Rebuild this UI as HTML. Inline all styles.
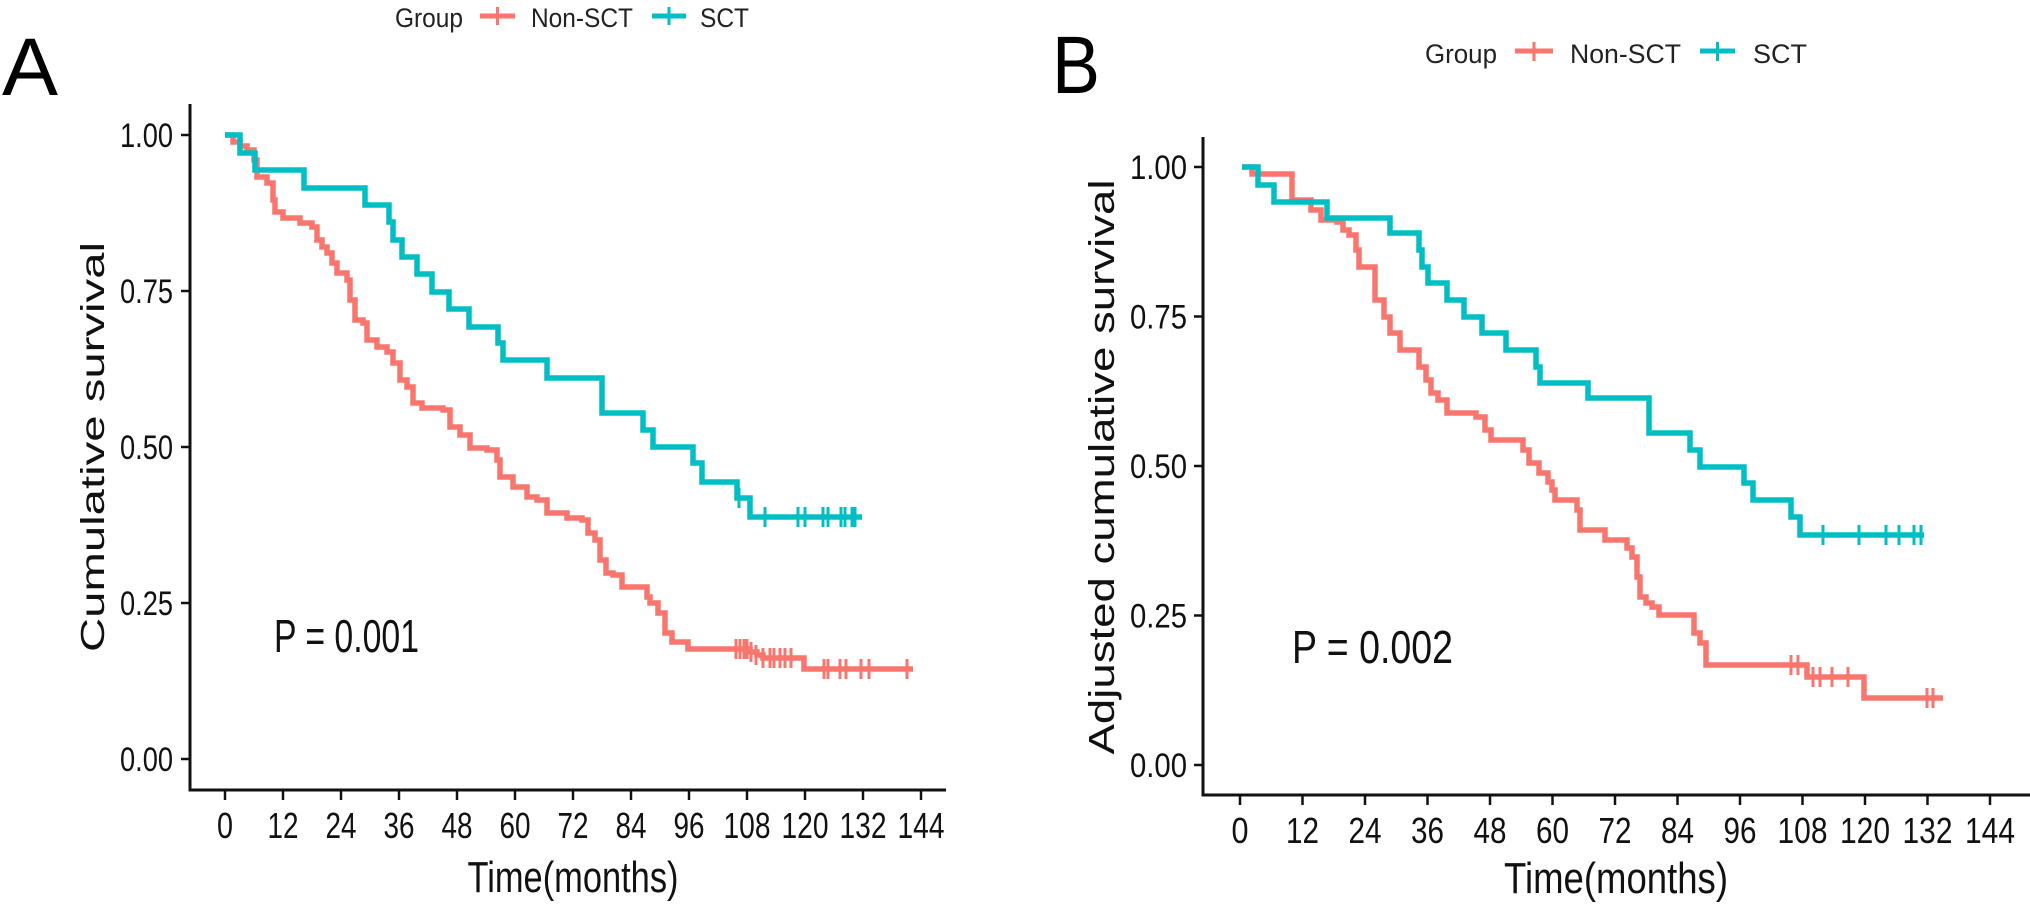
<!DOCTYPE html>
<html>
<head>
<meta charset="utf-8">
<style>
html,body{margin:0;padding:0;background:#fff;}
svg{display:block;}
text{font-family:"Liberation Sans",Arial,sans-serif;fill:#111;}
</style>
</head>
<body>
<svg width="2030" height="905" viewBox="0 0 2030 905" xmlns="http://www.w3.org/2000/svg">
<rect width="2030" height="905" fill="#fff"/>

<!-- ================= PANEL A ================= -->
<text x="2" y="95" font-size="82" textLength="56" lengthAdjust="spacingAndGlyphs" style="fill:#000">A</text>

<!-- legend A -->
<text x="395" y="27" font-size="27" textLength="68" lengthAdjust="spacingAndGlyphs" style="fill:#222">Group</text>
<line x1="480" y1="16" x2="515" y2="16" stroke="#F8766D" stroke-width="5"/>
<line x1="497.5" y1="7" x2="497.5" y2="25" stroke="#F8766D" stroke-width="3"/>
<text x="531" y="27" font-size="27" textLength="102" lengthAdjust="spacingAndGlyphs" style="fill:#222">Non-SCT</text>
<line x1="652" y1="16" x2="686" y2="16" stroke="#00BFC4" stroke-width="5"/>
<line x1="669" y1="7" x2="669" y2="25" stroke="#00BFC4" stroke-width="3"/>
<text x="700" y="27" font-size="27" textLength="49" lengthAdjust="spacingAndGlyphs" style="fill:#222">SCT</text>

<!-- axes A -->
<line x1="190" y1="104" x2="190" y2="791" stroke="#111" stroke-width="3"/>
<line x1="188.5" y1="790" x2="946" y2="790" stroke="#111" stroke-width="3"/>
<g stroke="#111" stroke-width="2.5">
<line x1="181" y1="135" x2="190" y2="135"/>
<line x1="181" y1="291" x2="190" y2="291"/>
<line x1="181" y1="447" x2="190" y2="447"/>
<line x1="181" y1="603" x2="190" y2="603"/>
<line x1="181" y1="759" x2="190" y2="759"/>
</g>
<g font-size="34">
<text x="120" y="147" textLength="53" lengthAdjust="spacingAndGlyphs">1.00</text>
<text x="120" y="303" textLength="53" lengthAdjust="spacingAndGlyphs">0.75</text>
<text x="120" y="459" textLength="53" lengthAdjust="spacingAndGlyphs">0.50</text>
<text x="120" y="615" textLength="53" lengthAdjust="spacingAndGlyphs">0.25</text>
<text x="120" y="771" textLength="53" lengthAdjust="spacingAndGlyphs">0.00</text>
</g>
<g stroke="#111" stroke-width="2.5">
<line x1="225" y1="790" x2="225" y2="800"/>
<line x1="283" y1="790" x2="283" y2="800"/>
<line x1="341" y1="790" x2="341" y2="800"/>
<line x1="399" y1="790" x2="399" y2="800"/>
<line x1="457" y1="790" x2="457" y2="800"/>
<line x1="515" y1="790" x2="515" y2="800"/>
<line x1="573" y1="790" x2="573" y2="800"/>
<line x1="631" y1="790" x2="631" y2="800"/>
<line x1="689" y1="790" x2="689" y2="800"/>
<line x1="747" y1="790" x2="747" y2="800"/>
<line x1="805" y1="790" x2="805" y2="800"/>
<line x1="863" y1="790" x2="863" y2="800"/>
<line x1="921" y1="790" x2="921" y2="800"/>
</g>
<g font-size="36" text-anchor="middle">
<text x="225" y="838" textLength="16" lengthAdjust="spacingAndGlyphs">0</text>
<text x="283" y="838" textLength="31" lengthAdjust="spacingAndGlyphs">12</text>
<text x="341" y="838" textLength="31" lengthAdjust="spacingAndGlyphs">24</text>
<text x="399" y="838" textLength="31" lengthAdjust="spacingAndGlyphs">36</text>
<text x="457" y="838" textLength="31" lengthAdjust="spacingAndGlyphs">48</text>
<text x="515" y="838" textLength="31" lengthAdjust="spacingAndGlyphs">60</text>
<text x="573" y="838" textLength="31" lengthAdjust="spacingAndGlyphs">72</text>
<text x="631" y="838" textLength="31" lengthAdjust="spacingAndGlyphs">84</text>
<text x="689" y="838" textLength="31" lengthAdjust="spacingAndGlyphs">96</text>
<text x="747" y="838" textLength="47" lengthAdjust="spacingAndGlyphs">108</text>
<text x="805" y="838" textLength="47" lengthAdjust="spacingAndGlyphs">120</text>
<text x="863" y="838" textLength="47" lengthAdjust="spacingAndGlyphs">132</text>
<text x="921" y="838" textLength="47" lengthAdjust="spacingAndGlyphs">144</text>
</g>
<text x="573" y="892" font-size="44" text-anchor="middle" textLength="211" lengthAdjust="spacingAndGlyphs">Time(months)</text>
<text transform="translate(104,447) rotate(-90)" x="0" y="0" font-size="33" text-anchor="middle" textLength="410" lengthAdjust="spacingAndGlyphs">Cumulative survival</text>
<text x="274" y="652" font-size="46" textLength="145" lengthAdjust="spacingAndGlyphs">P = 0.001</text>

<!-- curves A -->
<path fill="none" stroke="#F8766D" stroke-width="5.5" stroke-linejoin="miter" d="M225,135 H233 V142 H240 V146 H247 V150 H254 V160 H257 V177 H267 V183 H273 V200 H275 V212 H283 V218 H300 V223 H312 V227 H317 V240 H322 V247 H327 V253 H332 V263 H337 V273 H347 V280 H350 V300 H355 V320 H363 V323 H367 V340 H377 V347 H387 V352 H393 V363 H400 V380 H407 V387 H413 V403 H422 V408 H443 V410 H450 V427 H460 V435 H470 V448 H487 V450 H497 V460 H500 V477 H513 V487 H527 V497 H537 V500 H547 V513 H567 V518 H582 V520 H588 V533 H595 V540 H600 V560 H606 V573 H613 V575 H622 V587 H640 V587 H647 V597 H650 V603 H658 V613 H665 V633 H672 V642 H688 V649 H750 V652 H757 V655 H763 V658 H804 V669 H913"/>
<g stroke="#F8766D" stroke-width="3">
<line x1="736" y1="639" x2="736" y2="659"/><line x1="740" y1="639" x2="740" y2="659"/><line x1="744" y1="639" x2="744" y2="659"/><line x1="747" y1="639" x2="747" y2="659"/>
<line x1="751" y1="642" x2="751" y2="662"/><line x1="756" y1="645" x2="756" y2="665"/>
<line x1="763" y1="648" x2="763" y2="668"/><line x1="770" y1="648" x2="770" y2="668"/><line x1="774" y1="648" x2="774" y2="668"/><line x1="780" y1="648" x2="780" y2="668"/><line x1="785" y1="648" x2="785" y2="668"/><line x1="791" y1="648" x2="791" y2="668"/>
<line x1="824" y1="659" x2="824" y2="679"/><line x1="828" y1="659" x2="828" y2="679"/><line x1="840" y1="659" x2="840" y2="679"/><line x1="846" y1="659" x2="846" y2="679"/><line x1="861" y1="659" x2="861" y2="679"/><line x1="869" y1="659" x2="869" y2="679"/><line x1="907" y1="659" x2="907" y2="679"/>
</g>
<path fill="none" stroke="#00BFC4" stroke-width="5.5" d="M225,135 H240 V153 H255 V170 H304 V188 H365 V205 H389 V222 H393 V240 H402 V257 H417 V274 H432 V292 H449 V309 H469 V327 H498 V343 H503 V360 H547 V378 H602 V413 H643 V430 H653 V447 H693 V463 H702 V482 H737 V498 H750 V517 H862"/>
<g stroke="#00BFC4" stroke-width="3">
<line x1="739" y1="488" x2="739" y2="508"/>
<line x1="765" y1="507" x2="765" y2="527"/><line x1="798" y1="507" x2="798" y2="527"/><line x1="805" y1="507" x2="805" y2="527"/><line x1="823" y1="507" x2="823" y2="527"/><line x1="828" y1="507" x2="828" y2="527"/><line x1="841" y1="507" x2="841" y2="527"/><line x1="845" y1="507" x2="845" y2="527"/><line x1="852" y1="507" x2="852" y2="527"/><line x1="855" y1="507" x2="855" y2="527"/>
</g>

<!-- ================= PANEL B ================= -->
<text x="1052" y="93" font-size="82" textLength="48" lengthAdjust="spacingAndGlyphs" style="fill:#000">B</text>

<!-- legend B -->
<text x="1425" y="63" font-size="27" textLength="72" lengthAdjust="spacingAndGlyphs" style="fill:#222">Group</text>
<line x1="1515" y1="51" x2="1553" y2="51" stroke="#F8766D" stroke-width="5"/>
<line x1="1534" y1="42" x2="1534" y2="61" stroke="#F8766D" stroke-width="3"/>
<text x="1570" y="63" font-size="27" textLength="111" lengthAdjust="spacingAndGlyphs" style="fill:#222">Non-SCT</text>
<line x1="1700" y1="51" x2="1735" y2="51" stroke="#00BFC4" stroke-width="5"/>
<line x1="1717.5" y1="42" x2="1717.5" y2="61" stroke="#00BFC4" stroke-width="3"/>
<text x="1753" y="63" font-size="27" textLength="54" lengthAdjust="spacingAndGlyphs" style="fill:#222">SCT</text>

<!-- axes B -->
<line x1="1203" y1="137" x2="1203" y2="796" stroke="#111" stroke-width="3"/>
<line x1="1201.5" y1="795" x2="2030" y2="795" stroke="#111" stroke-width="3"/>
<g stroke="#111" stroke-width="2.5">
<line x1="1194" y1="167" x2="1203" y2="167"/>
<line x1="1194" y1="316.5" x2="1203" y2="316.5"/>
<line x1="1194" y1="466" x2="1203" y2="466"/>
<line x1="1194" y1="615.5" x2="1203" y2="615.5"/>
<line x1="1194" y1="765" x2="1203" y2="765"/>
</g>
<g font-size="34">
<text x="1130" y="179" textLength="57" lengthAdjust="spacingAndGlyphs">1.00</text>
<text x="1130" y="328.5" textLength="57" lengthAdjust="spacingAndGlyphs">0.75</text>
<text x="1130" y="478" textLength="57" lengthAdjust="spacingAndGlyphs">0.50</text>
<text x="1130" y="627.5" textLength="57" lengthAdjust="spacingAndGlyphs">0.25</text>
<text x="1130" y="777" textLength="57" lengthAdjust="spacingAndGlyphs">0.00</text>
</g>
<g stroke="#111" stroke-width="2.5">
<line x1="1240" y1="795" x2="1240" y2="805"/>
<line x1="1302.5" y1="795" x2="1302.5" y2="805"/>
<line x1="1365" y1="795" x2="1365" y2="805"/>
<line x1="1427.5" y1="795" x2="1427.5" y2="805"/>
<line x1="1490" y1="795" x2="1490" y2="805"/>
<line x1="1552.5" y1="795" x2="1552.5" y2="805"/>
<line x1="1615" y1="795" x2="1615" y2="805"/>
<line x1="1677.5" y1="795" x2="1677.5" y2="805"/>
<line x1="1740" y1="795" x2="1740" y2="805"/>
<line x1="1802.5" y1="795" x2="1802.5" y2="805"/>
<line x1="1865" y1="795" x2="1865" y2="805"/>
<line x1="1927.5" y1="795" x2="1927.5" y2="805"/>
<line x1="1990" y1="795" x2="1990" y2="805"/>
</g>
<g font-size="36" text-anchor="middle">
<text x="1240" y="843" textLength="17" lengthAdjust="spacingAndGlyphs">0</text>
<text x="1302.5" y="843" textLength="33" lengthAdjust="spacingAndGlyphs">12</text>
<text x="1365" y="843" textLength="33" lengthAdjust="spacingAndGlyphs">24</text>
<text x="1427.5" y="843" textLength="33" lengthAdjust="spacingAndGlyphs">36</text>
<text x="1490" y="843" textLength="33" lengthAdjust="spacingAndGlyphs">48</text>
<text x="1552.5" y="843" textLength="33" lengthAdjust="spacingAndGlyphs">60</text>
<text x="1615" y="843" textLength="33" lengthAdjust="spacingAndGlyphs">72</text>
<text x="1677.5" y="843" textLength="33" lengthAdjust="spacingAndGlyphs">84</text>
<text x="1740" y="843" textLength="33" lengthAdjust="spacingAndGlyphs">96</text>
<text x="1802.5" y="843" textLength="50" lengthAdjust="spacingAndGlyphs">108</text>
<text x="1865" y="843" textLength="50" lengthAdjust="spacingAndGlyphs">120</text>
<text x="1927.5" y="843" textLength="50" lengthAdjust="spacingAndGlyphs">132</text>
<text x="1990" y="843" textLength="50" lengthAdjust="spacingAndGlyphs">144</text>
</g>
<text x="1616" y="893" font-size="44" text-anchor="middle" textLength="224" lengthAdjust="spacingAndGlyphs">Time(months)</text>
<text transform="translate(1114,467) rotate(-90)" x="0" y="0" font-size="36" text-anchor="middle" textLength="575" lengthAdjust="spacingAndGlyphs">Adjusted cumulative survival</text>
<text x="1292" y="663" font-size="46" textLength="161" lengthAdjust="spacingAndGlyphs">P = 0.002</text>

<!-- curves B -->
<path fill="none" stroke="#F8766D" stroke-width="5.5" d="M1242,167 H1252 V174 H1292 V200 H1311 V210 H1321 V220 H1337 V222 H1343 V230 H1349 V235 H1356 V250 H1359 V267 H1375 V300 H1384 V317 H1390 V333 H1400 V350 H1419 V367 H1426 V380 H1431 V393 H1438 V400 H1447 V413 H1476 V417 H1485 V430 H1491 V440 H1523 V450 H1529 V463 H1539 V473 H1548 V482 H1552 V490 H1555 V500 H1577 V510 H1580 V530 H1605 V540 H1627 V548 H1632 V557 H1637 V577 H1640 V597 H1646 V603 H1652 V607 H1659 V615 H1694 V633 H1700 V643 H1706 V665 H1807 V677 H1864 V698 H1943"/>
<g stroke="#F8766D" stroke-width="3">
<line x1="1791" y1="655" x2="1791" y2="675"/><line x1="1798" y1="655" x2="1798" y2="675"/>
<line x1="1813" y1="667" x2="1813" y2="687"/><line x1="1820" y1="667" x2="1820" y2="687"/><line x1="1832" y1="667" x2="1832" y2="687"/><line x1="1848" y1="667" x2="1848" y2="687"/>
<line x1="1927" y1="688" x2="1927" y2="708"/><line x1="1933" y1="688" x2="1933" y2="708"/>
</g>
<path fill="none" stroke="#00BFC4" stroke-width="5.5" d="M1242,167 H1258 V185 H1274 V202 H1327 V218 H1390 V233 H1419 V250 H1422 V267 H1428 V283 H1447 V300 H1464 V317 H1482 V333 H1506 V350 H1536 V367 H1540 V383 H1588 V398 H1649 V433 H1690 V450 H1700 V467 H1744 V483 H1753 V500 H1791 V517 H1800 V535 H1924"/>
<g stroke="#00BFC4" stroke-width="3">
<line x1="1823" y1="525" x2="1823" y2="545"/><line x1="1859" y1="525" x2="1859" y2="545"/><line x1="1886" y1="525" x2="1886" y2="545"/><line x1="1899" y1="525" x2="1899" y2="545"/><line x1="1914" y1="525" x2="1914" y2="545"/><line x1="1921" y1="525" x2="1921" y2="545"/>
</g>
</svg>
</body>
</html>
